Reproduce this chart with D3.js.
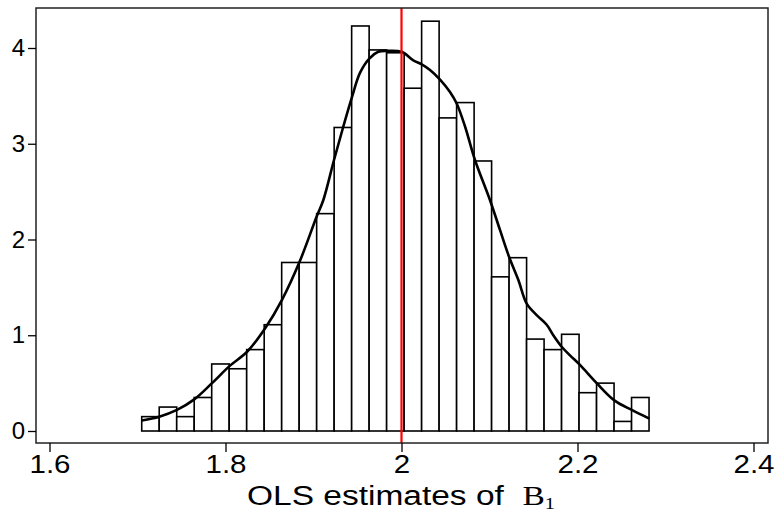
<!DOCTYPE html>
<html>
<head>
<meta charset="utf-8">
<script src="https://cdn.jsdelivr.net/npm/d3@7"></script>
<style>
  body { margin: 0; background: #fff; }
  svg { display: block; }
</style>
</head>
<body>
<svg id="chart" width="776" height="514"></svg>
<script>
// histogram of 1000 OLS slope estimates (density scale)
var binMin = 1.7048, binMax = 2.2813;
var densities = [0.15, 0.25, 0.15, 0.35, 0.70, 0.65, 0.85, 1.11, 1.76, 1.76,
                 2.27, 3.17, 4.23, 3.98, 3.95, 3.58, 4.28, 3.27, 3.43, 2.82,
                 1.61, 1.81, 0.96, 0.85, 1.01, 0.40, 0.50, 0.10, 0.35];

// kernel density overlay
var kdeX = [1.7048, 1.7248, 1.7449, 1.7645, 1.7847, 1.8048, 1.8248, 1.8449, 1.8642, 1.8843,
            1.9036, 1.9111, 1.9233, 1.9339, 1.9438, 1.9528, 1.9634, 1.9736, 1.9832, 2.0002,
            2.0134, 2.0230, 2.0324, 2.0438, 2.0551, 2.0627, 2.0722, 2.0835, 2.1006, 2.1119,
            2.1222, 2.1327, 2.1423, 2.1536, 2.1650, 2.1725, 2.1820, 2.1915, 2.2028, 2.2218,
            2.2418, 2.2616, 2.2816];
var kdeY = [0.11, 0.15, 0.22, 0.33, 0.50, 0.68, 0.83, 1.07, 1.37, 1.77,
            2.24, 2.41, 2.83, 3.18, 3.49, 3.74, 3.89, 3.96, 3.97, 3.96,
            3.87, 3.83, 3.77, 3.67, 3.54, 3.42, 3.18, 2.83, 2.41, 2.10,
            1.82, 1.58, 1.33, 1.21, 1.11, 1.00, 0.88, 0.79, 0.69, 0.50,
            0.32, 0.22, 0.13];

var trueValue = 2;
var xTicks = [1.6, 1.8, 2, 2.2, 2.4];
var yTicks = [0, 1, 2, 3, 4];

var svg = d3.select("#chart");
var box = {left: 36, top: 8, right: 768, bottom: 443};
var sans = "Liberation Sans, Arial, sans-serif";
var serif = "Liberation Serif, Times New Roman, serif";

var x = d3.scaleLinear().domain([1.6, 2.4]).range([49.5, 753.5]);
var y = d3.scaleLinear().domain([0, 4]).range([431, 48]);

var binW = (binMax - binMin) / densities.length;

// bars
svg.append("g")
  .selectAll("rect")
  .data(densities)
  .enter().append("rect")
    .attr("x", function (d, i) { return x(binMin + i * binW); })
    .attr("width", function () { return x(binMin + binW) - x(binMin); })
    .attr("y", function (d) { return y(d); })
    .attr("height", function (d) { return y(0) - y(d); })
    .attr("fill", "#fff")
    .attr("stroke", "#000")
    .attr("stroke-width", 1.6);

// density curve
var line = d3.line()
  .x(function (d) { return x(d[0]); })
  .y(function (d) { return y(d[1]); })
  .curve(d3.curveCatmullRom);
svg.append("path")
  .datum(d3.zip(kdeX, kdeY))
  .attr("d", line)
  .attr("fill", "none")
  .attr("stroke", "#000")
  .attr("stroke-width", 2.6);

// true value marker
svg.append("line")
  .attr("x1", x(trueValue)).attr("x2", x(trueValue))
  .attr("y1", box.top).attr("y2", box.bottom)
  .attr("stroke", "#f00")
  .attr("stroke-width", 2.2);

// frame
svg.append("rect")
  .attr("x", box.left).attr("y", box.top)
  .attr("width", box.right - box.left).attr("height", box.bottom - box.top)
  .attr("fill", "none")
  .attr("stroke", "#222")
  .attr("stroke-width", 1.5);

// axes
var yAxis = d3.axisLeft(y).tickValues(yTicks).tickSize(8).tickPadding(3).tickFormat(d3.format("d"));
var gy = svg.append("g").attr("transform", "translate(" + box.left + ",0)").call(yAxis);
gy.select(".domain").remove();
gy.selectAll("text").attr("font-family", sans).attr("font-size", 24).attr("fill", "#000");
gy.selectAll("line").attr("stroke", "#000").attr("stroke-width", 1.3);

var xAxis = d3.axisBottom(x).tickValues(xTicks).tickSize(9).tickPadding(3).tickFormat(d3.format(""));
var gx = svg.append("g").attr("transform", "translate(0," + box.bottom + ")").call(xAxis);
gx.select(".domain").remove();
gx.selectAll("text").attr("font-family", sans).attr("font-size", 25).attr("fill", "#000")
  .attr("transform", "scale(1.18,1)");
gx.selectAll("line").attr("stroke", "#000").attr("stroke-width", 1.3);

// x title (stretched wide like the original)
var tg = svg.append("g");
var title = tg.append("text")
  .attr("x", 0).attr("y", 0)
  .attr("text-anchor", "middle")
  .attr("font-family", sans)
  .attr("font-size", 28)
  .attr("fill", "#000")
  .attr("xml:space", "preserve");
title.append("tspan").text("OLS estimates of  ");
title.append("tspan").attr("font-family", serif).text("B");
title.append("tspan").attr("font-family", serif)
  .attr("font-size", 17).attr("dy", 4).text("1");
var sx = 308 / title.node().getComputedTextLength();
tg.attr("transform", "translate(401,505) scale(" + sx + ",1)");
</script>
</body>
</html>
